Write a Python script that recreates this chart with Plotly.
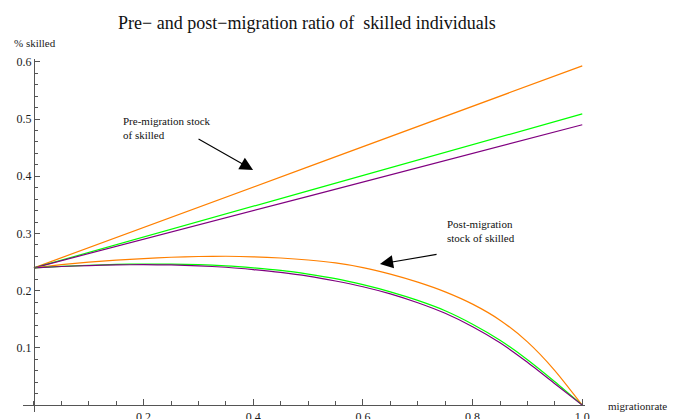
import plotly.graph_objects as go

# Migration rate grid and skilled share (fraction of population)
pre_rate = [0.0, 0.5, 1.0]
pre_orange = [0.240, 0.4165, 0.593]
pre_green = [0.240, 0.3745, 0.509]
pre_purple = [0.240, 0.365, 0.490]

post_rate = [0.0, 0.05, 0.1, 0.15, 0.2, 0.25, 0.3, 0.35, 0.4, 0.45, 0.5,
             0.55, 0.6, 0.65, 0.7, 0.75, 0.8, 0.85, 0.9, 0.95, 1.0]
post_orange = [0.240, 0.2455, 0.250, 0.2535, 0.2562, 0.2585, 0.2598, 0.2602, 0.2592, 0.2572, 0.2537,
               0.2485, 0.2405, 0.2290, 0.2150, 0.1980, 0.1765, 0.1485, 0.1105, 0.0605, 0.0]
post_green = [0.240, 0.2425, 0.2445, 0.2460, 0.2465, 0.2463, 0.2455, 0.2435, 0.2400, 0.2355, 0.2290,
              0.2210, 0.2105, 0.1980, 0.1830, 0.1650, 0.1415, 0.1135, 0.0795, 0.0410, 0.0]
post_purple = [0.240, 0.2423, 0.2440, 0.2452, 0.2455, 0.2450, 0.2435, 0.2410, 0.2370, 0.2320, 0.2255,
               0.2170, 0.2070, 0.1945, 0.1790, 0.1605, 0.1370, 0.1090, 0.0750, 0.0375, 0.0]

x_ticks = [0.2, 0.4, 0.6, 0.8, 1.0]
x_tick_text = ["0.2", "0.4", "0.6", "0.8", "1.0"]
y_ticks = [0.1, 0.2, 0.3, 0.4, 0.5, 0.6]
y_tick_text = ["0.1", "0.2", "0.3", "0.4", "0.5", "0.6"]

ORANGE = "#ff8000"
GREEN = "#00ff00"
PURPLE = "#800080"
SERIF = "Liberation Serif"
AXIS = "#555555"
TEXT = "#1a1a1a"

W, H = 676, 419

fig = go.Figure()
series = [
    (pre_rate, pre_orange, ORANGE), (pre_rate, pre_green, GREEN), (pre_rate, pre_purple, PURPLE),
    (post_rate, post_orange, ORANGE), (post_rate, post_green, GREEN), (post_rate, post_purple, PURPLE),
]
for xs, ys, col in series:
    fig.add_trace(go.Scatter(
        x=xs, y=ys, mode="lines",
        line=dict(color=col, width=1.2, shape="spline", smoothing=0.6),
        showlegend=False, hoverinfo="skip",
    ))

# Pixel layout of the axes box
px_left, px_right = 23, 585
px_top, px_bottom = 59, 412
px_xaxis, px_yaxis = 405, 34

fig.update_layout(
    width=W, height=H,
    margin=dict(l=0, r=0, t=0, b=0),
    paper_bgcolor="white", plot_bgcolor="white",
    font=dict(family=SERIF, color=TEXT, size=12),
    title=dict(
        text="Pre\u2212 and post\u2212migration ratio of  skilled individuals",
        x=307 / W, xanchor="center", y=1 - 23 / H, yanchor="middle",
        yref="container", xref="paper",
        font=dict(family=SERIF, size=18, color="#111111"),
    ),
    xaxis=dict(
        domain=[px_left / W, px_right / W],
        range=[-0.02, 1.005],
        anchor="free", position=(H - px_xaxis) / H,
        showgrid=False, zeroline=False,
        showline=True, linecolor=AXIS, linewidth=1.3,
        tickmode="array", tickvals=x_ticks, ticktext=x_tick_text,
        ticks="inside", ticklen=6, tickwidth=1.2, tickcolor=AXIS,
        minor=dict(dtick=0.05, tick0=0, ticks="inside", ticklen=4, tickwidth=1, tickcolor=AXIS),
        tickfont=dict(family=SERIF, size=12, color=TEXT),
        automargin=False,
    ),
    yaxis=dict(
        domain=[(H - px_bottom) / H, (H - px_top) / H],
        range=[-0.012, 0.605],
        anchor="free", position=px_yaxis / W,
        showgrid=False, zeroline=False,
        showline=True, linecolor=AXIS, linewidth=1.3,
        tickmode="array", tickvals=y_ticks, ticktext=y_tick_text,
        ticks="inside", ticklen=5, tickwidth=1.2, tickcolor=AXIS,
        minor=dict(dtick=0.02, tick0=0, ticks="inside", ticklen=3, tickwidth=1, tickcolor=AXIS),
        tickfont=dict(family=SERIF, size=12, color=TEXT),
        automargin=False,
    ),
)

# Axis labels
fig.add_annotation(text="% skilled", xref="paper", yref="paper",
                   x=12 / W, y=1 - 43 / H, xanchor="left", yanchor="middle",
                   showarrow=False, font=dict(family=SERIF, size=11, color=TEXT))
fig.add_annotation(text="migrationrate", xref="paper", yref="paper",
                   x=606 / W, y=1 - 406 / H, xanchor="left", yanchor="middle",
                   showarrow=False, font=dict(family=SERIF, size=11, color=TEXT))

# Curve labels
fig.add_annotation(text="Pre-migration stock<br>of skilled", xref="paper", yref="paper",
                   x=121 / W, y=1 - 128 / H, xanchor="left", yanchor="middle", align="left",
                   showarrow=False, font=dict(family=SERIF, size=11, color="#111111"))
fig.add_annotation(text="Post-migration<br>stock of skilled", xref="paper", yref="paper",
                   x=445 / W, y=1 - 231 / H, xanchor="left", yanchor="middle", align="left",
                   showarrow=False, font=dict(family=SERIF, size=11, color="#111111"))

# Arrows pointing at the two families of curves
for head, tail in [((0.3996, 0.411), (0.2974, 0.4668)), ((0.631, 0.2465), (0.737, 0.264))]:
    fig.add_annotation(x=head[0], y=head[1], ax=tail[0], ay=tail[1],
                       xref="x", yref="y", axref="x", ayref="y", text="",
                       showarrow=True, arrowhead=2, arrowsize=2.4, arrowwidth=1.1,
                       arrowcolor="#000000", standoff=0)

fig.write_html("out.html")
